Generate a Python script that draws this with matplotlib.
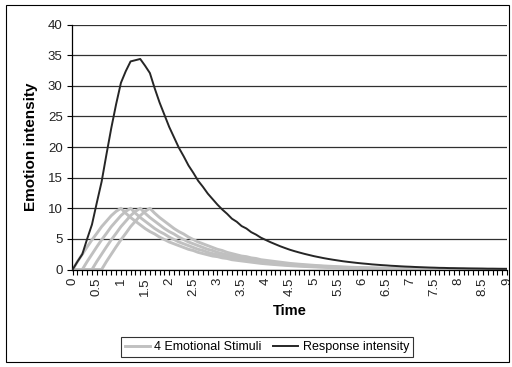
import matplotlib
matplotlib.use("Agg")
import matplotlib.pyplot as plt
from matplotlib.patches import Rectangle
from matplotlib.lines import Line2D

plt.rcParams['font.family'] = ['Liberation Sans', 'DejaVu Sans']

time = [round(0.1 * i, 1) for i in range(91)]

stim_1 = [0, 1.3, 2.5, 3.7, 4.85, 5.9, 7.0, 7.9, 8.8, 9.5, 10,
          9.2, 8.5, 7.9, 7.3, 6.7, 6.2, 5.8, 5.3, 4.9, 4.5,
          4.2, 3.9, 3.6, 3.3, 3.1, 2.8, 2.6, 2.4, 2.2, 2.1,
          1.9, 1.8, 1.6, 1.5, 1.4, 1.3, 1.2, 1.1, 1.0, 0.93,
          0.86, 0.80, 0.74, 0.68, 0.63, 0.58, 0.54, 0.50, 0.46, 0.42,
          0.39, 0.36, 0.33, 0.31, 0.29, 0.26, 0.24, 0.23, 0.21, 0.19,
          0.18, 0.16, 0.15, 0.14, 0.13, 0.12, 0.11, 0.10, 0.09, 0.09,
          0.08, 0.07, 0.07, 0.06, 0.06, 0.05, 0.05, 0.05, 0.04, 0.04,
          0.04, 0.03, 0.03, 0.03, 0.03, 0.02, 0.02, 0.02, 0.02, 0.02]

stim_2 = [0, 0, 0, 1.3, 2.5, 3.7, 4.85, 5.9, 7.0, 7.9, 8.8, 9.5, 10,
          9.2, 8.5, 7.9, 7.3, 6.7, 6.2, 5.8, 5.3, 4.9, 4.5,
          4.2, 3.9, 3.6, 3.3, 3.1, 2.8, 2.6, 2.4, 2.2, 2.1,
          1.9, 1.8, 1.6, 1.5, 1.4, 1.3, 1.2, 1.1, 1.0, 0.93,
          0.86, 0.80, 0.74, 0.68, 0.63, 0.58, 0.54, 0.50, 0.46, 0.42,
          0.39, 0.36, 0.33, 0.31, 0.29, 0.26, 0.24, 0.23, 0.21, 0.19,
          0.18, 0.16, 0.15, 0.14, 0.13, 0.12, 0.11, 0.10, 0.09, 0.09,
          0.08, 0.07, 0.07, 0.06, 0.06, 0.05, 0.05, 0.05, 0.04, 0.04,
          0.04, 0.03, 0.03, 0.03, 0.03, 0.02, 0.02, 0.02]

stim_3 = [0, 0, 0, 0, 0, 1.3, 2.5, 3.7, 4.85, 5.9, 7.0, 7.9, 8.8, 9.5, 10,
          9.2, 8.5, 7.9, 7.3, 6.7, 6.2, 5.8, 5.3, 4.9, 4.5,
          4.2, 3.9, 3.6, 3.3, 3.1, 2.8, 2.6, 2.4, 2.2, 2.1,
          1.9, 1.8, 1.6, 1.5, 1.4, 1.3, 1.2, 1.1, 1.0, 0.93,
          0.86, 0.80, 0.74, 0.68, 0.63, 0.58, 0.54, 0.50, 0.46, 0.42,
          0.39, 0.36, 0.33, 0.31, 0.29, 0.26, 0.24, 0.23, 0.21, 0.19,
          0.18, 0.16, 0.15, 0.14, 0.13, 0.12, 0.11, 0.10, 0.09, 0.09,
          0.08, 0.07, 0.07, 0.06, 0.06, 0.05, 0.05, 0.05, 0.04, 0.04,
          0.04, 0.03, 0.03, 0.03, 0.03, 0.02]

stim_4 = [0, 0, 0, 0, 0, 0, 0, 1.3, 2.5, 3.7, 4.85, 5.9, 7.0, 7.9, 8.8, 9.5, 10,
          9.2, 8.5, 7.9, 7.3, 6.7, 6.2, 5.8, 5.3, 4.9, 4.5,
          4.2, 3.9, 3.6, 3.3, 3.1, 2.8, 2.6, 2.4, 2.2, 2.1,
          1.9, 1.8, 1.6, 1.5, 1.4, 1.3, 1.2, 1.1, 1.0, 0.93,
          0.86, 0.80, 0.74, 0.68, 0.63, 0.58, 0.54, 0.50, 0.46, 0.42,
          0.39, 0.36, 0.33, 0.31, 0.29, 0.26, 0.24, 0.23, 0.21, 0.19,
          0.18, 0.16, 0.15, 0.14, 0.13, 0.12, 0.11, 0.10, 0.09, 0.09,
          0.08, 0.07, 0.07, 0.06, 0.06, 0.05, 0.05, 0.05, 0.04, 0.04,
          0.04, 0.03, 0.03, 0.03]

response = [0, 1.3, 2.5, 5.0, 7.35, 10.9, 14.35, 18.8, 23.1, 27.0, 30.5,
            32.4, 34.0, 34.2, 34.4, 33.3, 32.1, 29.6, 27.3, 25.3, 23.3,
            21.6, 19.9, 18.5, 17.0, 15.8, 14.5, 13.5, 12.4, 11.5, 10.6,
            9.8, 9.1, 8.3, 7.8, 7.1, 6.7, 6.1, 5.7, 5.2, 4.83,
            4.46, 4.13, 3.80, 3.51, 3.23, 2.99, 2.77, 2.56, 2.37, 2.18,
            2.02, 1.86, 1.72, 1.59, 1.47, 1.35, 1.25, 1.16, 1.07, 0.99,
            0.92, 0.84, 0.78, 0.72, 0.67, 0.61, 0.57, 0.52, 0.48, 0.45,
            0.41, 0.38, 0.35, 0.32, 0.30, 0.27, 0.26, 0.23, 0.22, 0.20,
            0.19, 0.17, 0.16, 0.15, 0.14, 0.12, 0.12, 0.11, 0.10, 0.10]

stimuli = [stim_1, stim_2, stim_3, stim_4]
x_tick_labels = ["0", "0.5", "1", "1.5", "2", "2.5", "3", "3.5", "4", "4.5",
                 "5", "5.5", "6", "6.5", "7", "7.5", "8", "8.5", "9"]
y_ticks = [0, 5, 10, 15, 20, 25, 30, 35, 40]

W, H = 512, 367
fig = plt.figure(figsize=(W / 100, H / 100), dpi=100)
fig.patch.set_facecolor('white')

left, right, top, bottom = 71.7, 507, 24.7, 269.5
ax = fig.add_axes([left / W, 1 - bottom / H, (right - left) / W, (bottom - top) / H])

stim_color = '#c0c0c0'
resp_color = '#262626'
for s in stimuli:
    ax.plot(time, s, color=stim_color, lw=2.1, solid_joinstyle='round', zorder=2)
ax.plot(time, response, color=resp_color, lw=1.4, zorder=3)

ax.set_xlim(-0.02, 9.0)
ax.set_ylim(0, 40)
ax.set_yticks(y_ticks)
ax.set_yticklabels([str(v) for v in y_ticks], fontsize=9.5, color='#222222')
ax.set_xticks([0.5 * i for i in range(len(x_tick_labels))])
ax.set_xticklabels(x_tick_labels, rotation=90, fontsize=9.5, color='#222222')
ax.set_xticks([0.1 * i for i in range(91)], minor=True)
ax.tick_params(axis='x', which='both', direction='out', length=3.5, width=0.8, pad=2)
ax.tick_params(axis='y', direction='out', length=3.5, width=0.8, pad=3)

ax.grid(axis='y', color='#303030', lw=0.9, zorder=0)
ax.set_axisbelow(True)
for sp in ['top', 'right']:
    ax.spines[sp].set_visible(False)
for sp in ['left', 'bottom']:
    ax.spines[sp].set_color('black')
    ax.spines[sp].set_linewidth(0.9)

ax.set_ylabel('Emotion intensity', fontsize=11, fontweight='bold', labelpad=7)
ax.set_xlabel('Time', fontsize=10.5, fontweight='bold', labelpad=6)

handles = [Line2D([], [], color=stim_color, lw=2.1),
           Line2D([], [], color=resp_color, lw=1.4)]
leg = fig.legend(handles, ['4 Emotional Stimuli', 'Response intensity'],
                 loc='center', bbox_to_anchor=(267 / W, 1 - 347 / H), ncol=2,
                 fontsize=9, frameon=True, fancybox=False, handlelength=2.0,
                 handletextpad=0.4, columnspacing=0.9, borderpad=0.3,
                 borderaxespad=0)
leg.get_frame().set_edgecolor('black')
leg.get_frame().set_linewidth(0.8)

fig.patches.append(Rectangle((6 / W, 1 - 362 / H), (509 - 6) / W, (362 - 5) / H,
                             transform=fig.transFigure, fill=False,
                             edgecolor='black', lw=0.8))

fig.savefig('out.png', dpi=100)
